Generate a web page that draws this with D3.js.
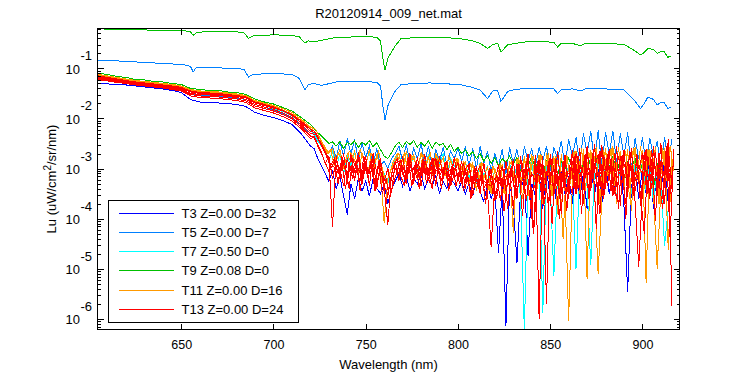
<!DOCTYPE html>
<html><head><meta charset="utf-8">
<script src="https://cdn.jsdelivr.net/npm/d3@7"></script>
<style>
body{margin:0;background:#fff}
svg{display:block}
text{font-family:"Liberation Sans",Arial,Helvetica,sans-serif;fill:#000}
</style>
</head><body>
<svg id="c" width="750" height="375"></svg>
<script>
// ---------------- DATA (log10 of Lu) ----------------
const titleText = "R20120914_009_net.mat";
const xTickValues = [650, 700, 750, 800, 850, 900];
const yMajorExponents = [-1, -2, -3, -4, -5, -6];
const seriesNames = ["T3 Z=0.00 D=32", "T5 Z=0.00 D=7", "T7 Z=0.50 D=0", "T9 Z=0.08 D=0", "T11 Z=0.00 D=16", "T13 Z=0.00 D=24"];
const seriesColors = ["#0000ff", "#0080ff", "#00ffff", "#00c000", "#ff9900", "#ff0000"];

// upper (high signal) scans of T9 and T5
const wlTop = [605,615,625,635,645,652,655,656.5,658,662,670,680,684,686.5,689,694,700,710,714,717,719,722,726,734,745,753,756,758,759.5,760.5,762,763.5,766,769,775,785,795,802,808,812,816,819,821.5,823.3,827,831,837,848,852,854,856,862,866.6,869,880,890,895.5,899,901,903,906,908,910,912,913.7,915.5];
const t9TopLog10 = [-0.21,-0.22,-0.23,-0.235,-0.25,-0.25,-0.27,-0.34,-0.29,-0.27,-0.27,-0.27,-0.29,-0.40,-0.35,-0.34,-0.33,-0.34,-0.37,-0.49,-0.45,-0.47,-0.44,-0.38,-0.37,-0.37,-0.38,-0.45,-0.85,-1.03,-0.80,-0.70,-0.55,-0.41,-0.39,-0.38,-0.39,-0.41,-0.45,-0.50,-0.60,-0.52,-0.50,-0.67,-0.53,-0.50,-0.47,-0.47,-0.48,-0.57,-0.50,-0.50,-0.55,-0.50,-0.50,-0.52,-0.64,-0.73,-0.68,-0.60,-0.62,-0.70,-0.66,-0.67,-0.78,-0.75];
const t5TopLog10 = [-0.835,-0.85,-0.87,-0.89,-0.91,-0.93,-0.96,-1.07,-0.99,-0.98,-0.99,-1.00,-1.02,-1.17,-1.12,-1.11,-1.10,-1.12,-1.20,-1.43,-1.32,-1.30,-1.34,-1.27,-1.27,-1.27,-1.28,-1.35,-1.80,-2.03,-1.75,-1.62,-1.45,-1.33,-1.30,-1.29,-1.31,-1.33,-1.38,-1.43,-1.60,-1.45,-1.44,-1.66,-1.46,-1.42,-1.40,-1.40,-1.41,-1.50,-1.42,-1.41,-1.45,-1.41,-1.41,-1.43,-1.63,-1.80,-1.70,-1.57,-1.62,-1.73,-1.68,-1.69,-1.80,-1.78];

// low signal scans (bundle): two sampling grids
const wlBundle = [605,610,615,620,625,630,635,640,645,650,655,660,665,670,675,680,685,690,695,700,705,710,715,720,
722,724,726,728,730,732,734,736,738,740,742,744,746,748,750,752,754,756,758,760,762,764,766,768,770,772,774,776,778,780,
782,784,786,788,790,792,794,796,798,800,802,804,806,808,810,812,814,816,818,820,822,824,826,828,830,832,834,836,838,840,
842,844,846,848,850,852,854,856,858,860,862,864,866,868,870,872,874,876,878,880,882,884,886,888,890,892,894,896,898,900,
902,904,906,908,910,912,914,916];
const wlBundleOdd = [605,610,615,620,625,630,635,640,645,650,655,660,665,670,675,680,685,690,695,700,705,710,715,720,
723,725,727,729,731,733,735,737,739,741,743,745,747,749,751,753,755,757,759,761,763,765,767,769,771,773,775,777,779,781,
783,785,787,789,791,793,795,797,799,801,803,805,807,809,811,813,815,817,819,821,823,825,827,829,831,833,835,837,839,841,
843,845,847,849,851,853,855,857,859,861,863,865,867,869,871,873,875,877,879,881,883,885,887,889,891,893,895,897,899,901,
903,905,907,909,911,913,915,917];

const t3Log10 = [-1.30,-1.31,-1.32,-1.33,-1.35,-1.37,-1.39,-1.41,-1.44,-1.48,-1.62,-1.67,-1.68,-1.69,-1.70,-1.72,-1.76,-1.88,-1.94,-1.98,-2.04,-2.12,-2.30,-2.55,
-2.60,-2.80,-2.95,-3.10,-3.25,-3.05,-3.40,-3.15,-3.55,-3.92,
-3.30,-3.60,-3.20,-3.45,-3.25,-3.55,-3.20,-3.40,-3.50,-3.30,
-3.70,-3.40,-3.25,-3.10,-3.35,-3.15,-3.45,-3.20,-3.30,-3.10,
-3.40,-3.20,-3.35,-3.15,-3.50,-3.25,-3.40,-3.20,-3.30,-3.45,
-3.25,-3.50,-3.30,-3.55,-3.20,-3.45,-3.66,-3.30,-3.60,-3.40,
-4.68,-3.35,-6.15,-3.30,-3.70,-4.88,-3.40,-3.20,-4.75,-3.30,
-3.55,-3.10,-3.80,-3.00,-3.60,-3.20,-3.90,-3.05,-3.50,-3.15,
-3.70,-2.95,-3.60,-3.10,-3.80,-2.90,-3.55,-3.00,-3.70,-2.85,
-3.50,-3.05,-3.65,-2.80,-3.75,-5.46,-3.40,-2.90,-3.60,-3.00,
-3.50,-2.75,-3.80,-2.95,-3.45,-2.85,-3.70,-3.00];

const t5Log10 = [-1.20,-1.23,-1.26,-1.29,-1.32,-1.34,-1.36,-1.38,-1.40,-1.43,-1.50,-1.53,-1.54,-1.55,-1.57,-1.59,-1.62,-1.72,-1.77,-1.83,-1.90,-1.99,-2.13,-2.30,
-2.30,-2.40,-2.48,-2.58,-2.70,-2.55,-2.80,-2.45,-2.75,-2.40,
-2.70,-2.42,-2.85,-2.50,-2.78,-2.55,-2.90,-2.60,-2.95,-2.85,
-3.00,-2.80,-2.70,-2.55,-2.85,-2.52,-2.90,-2.60,-2.80,-2.50,
-2.88,-2.55,-2.95,-2.62,-2.85,-2.58,-2.92,-2.65,-2.80,-2.60,
-2.85,-2.56,-2.95,-2.60,-3.00,-2.55,-2.90,-2.65,-3.05,-2.70,
-2.95,-2.62,-3.10,-2.58,-2.90,-2.62,-3.00,-2.56,-2.85,-2.60,
-2.95,-2.58,-2.85,-2.55,-3.05,-2.58,-2.80,-2.45,-2.95,-2.42,
-2.75,-2.38,-2.90,-2.30,-2.70,-2.26,-2.85,-2.24,-2.95,-2.28,
-2.70,-2.25,-2.88,-2.30,-2.75,-2.28,-3.00,-2.40,-2.80,-2.38,
-2.90,-2.40,-2.75,-2.45,-2.95,-2.38,-2.85,-2.42];

const t7Log10 = [-1.17,-1.20,-1.23,-1.26,-1.29,-1.31,-1.33,-1.35,-1.37,-1.40,-1.47,-1.50,-1.51,-1.52,-1.54,-1.56,-1.59,-1.69,-1.74,-1.80,-1.86,-1.95,-2.08,-2.25,
-2.30,-2.45,-2.55,-2.70,-2.85,-2.65,-3.00,-2.70,-3.10,-2.75,
-2.95,-2.68,-3.05,-2.72,-2.90,-2.66,-3.15,-2.75,-2.95,-3.10,
-3.30,-2.95,-2.80,-2.70,-3.00,-2.68,-2.95,-2.75,-3.05,-2.70,
-2.98,-2.72,-3.05,-2.78,-2.92,-2.70,-3.10,-2.80,-2.95,-2.85,
-3.10,-2.85,-3.20,-2.90,-3.30,-2.88,-3.15,-2.95,-3.40,-3.00,
-3.25,-2.92,-3.50,-2.90,-3.20,-2.95,-3.60,-6.25,-3.10,-2.85,
-3.40,-2.90,-5.88,-2.95,-3.30,-5.15,-3.10,-2.85,-3.45,-2.90,
-3.20,-5.00,-3.10,-2.88,-3.35,-4.93,-3.00,-2.85,-3.40,-2.92,
-3.15,-2.88,-3.60,-2.90,-3.25,-2.85,-3.50,-2.92,-3.20,-2.88,
-3.45,-2.90,-3.70,-2.95,-3.20,-4.55,-3.80,-3.00];

const t9Log10 = [-1.10,-1.12,-1.16,-1.18,-1.22,-1.23,-1.26,-1.27,-1.30,-1.32,-1.40,-1.42,-1.44,-1.44,-1.47,-1.48,-1.52,-1.61,-1.67,-1.71,-1.78,-1.85,-1.98,-2.12,
-2.20,-2.28,-2.35,-2.42,-2.50,-2.47,-2.55,-2.46,-2.60,-2.48,
-2.52,-2.45,-2.58,-2.47,-2.53,-2.44,-2.56,-2.48,-2.62,-2.75,
-2.80,-2.68,-2.55,-2.47,-2.58,-2.46,-2.52,-2.44,-2.57,-2.48,
-2.55,-2.45,-2.60,-2.47,-2.53,-2.50,-2.62,-2.52,-2.66,-2.58,
-2.70,-2.62,-2.75,-2.66,-2.80,-2.70,-2.85,-2.74,-2.90,-2.78,
-2.95,-2.80,-2.88,-2.75,-2.92,-2.78,-3.05,-2.82,-2.95,-2.76,
-3.00,-2.80,-3.10,-2.85,-2.96,-2.78,-3.15,-2.84,-3.02,-2.80,
-2.95,-2.75,-3.20,-2.82,-3.05,-2.78,-2.92,-2.72,-3.10,-2.85,
-2.98,-2.76,-3.08,-2.82,-3.30,-2.88,-3.00,-2.80,-3.15,-2.90,
-3.05,-2.85,-3.40,-2.90,-3.10,-2.82,-3.25,-2.95];

const t11aLog10 = [-1.14,-1.17,-1.20,-1.23,-1.26,-1.28,-1.30,-1.32,-1.34,-1.37,-1.44,-1.47,-1.48,-1.49,-1.51,-1.53,-1.56,-1.66,-1.71,-1.76,-1.83,-1.91,-2.04,-2.20,
-2.25,-2.35,-2.45,-2.58,-2.70,-2.60,-2.85,-2.62,-3.00,-2.70,
-2.88,-2.64,-3.10,-2.70,-2.95,-2.62,-3.05,-2.72,-3.00,-4.08,
-3.20,-3.00,-2.85,-2.70,-3.05,-2.66,-2.95,-2.72,-3.10,-2.68,
-3.00,-2.75,-3.15,-2.70,-2.95,-2.78,-3.20,-2.82,-3.05,-2.80,
-3.15,-2.85,-3.30,-2.88,-3.45,-2.90,-3.20,-2.95,-3.50,-3.00,
-3.30,-2.90,-3.60,-2.85,-4.28,-2.80,-3.40,-2.75,-3.55,-2.70,
-3.35,-2.72,-3.70,-2.68,-3.45,-2.75,-3.90,-2.70,-3.40,-6.05,
-3.30,-2.65,-3.50,-2.60,-5.20,-2.62,-3.40,-5.10,-3.60,-2.60,
-3.25,-2.55,-3.70,-2.65,-3.40,-2.60,-3.85,-2.58,-3.30,-2.62,
-5.28,-2.60,-3.50,-5.00,-3.40,-2.58,-4.62,-2.65];

const t11bLog10 = [-1.12,-1.15,-1.18,-1.21,-1.24,-1.26,-1.28,-1.30,-1.32,-1.35,-1.42,-1.45,-1.46,-1.47,-1.49,-1.51,-1.54,-1.64,-1.69,-1.74,-1.80,-1.88,-2.01,-2.17,
-2.22,-2.38,-2.55,-2.70,-2.62,-2.95,-2.68,-2.80,-3.05,-2.65,
-2.75,-2.95,-2.62,-2.85,-3.15,-2.70,-2.90,-2.66,-3.00,-3.30,
-3.10,-2.85,-2.70,-2.95,-2.68,-3.10,-2.75,-2.88,-3.20,-2.72,
-2.90,-2.70,-3.05,-2.78,-2.92,-3.15,-2.75,-2.95,-2.80,-3.10,
-2.85,-3.20,-2.90,-3.05,-3.35,-2.88,-3.10,-3.45,-2.95,-3.25,
-2.90,-3.50,-3.00,-2.85,-3.30,-2.78,-3.60,-2.80,-3.15,-2.75,
-3.40,-2.72,-3.10,-2.70,-3.55,-2.75,-3.00,-4.40,-2.72,-3.30,
-2.65,-3.20,-2.60,-3.45,-2.68,-3.05,-2.58,-3.70,-2.62,-3.15,
-2.60,-3.35,-2.58,-3.10,-2.65,-3.60,-2.60,-3.20,-2.55,-3.40,
-2.62,-3.15,-2.58,-3.70,-2.60,-3.25,-2.55,-3.05];

const t13aLog10 = [-1.15,-1.18,-1.21,-1.24,-1.27,-1.29,-1.31,-1.33,-1.35,-1.38,-1.45,-1.48,-1.49,-1.50,-1.52,-1.54,-1.57,-1.67,-1.72,-1.77,-1.84,-1.92,-2.05,-2.22,
-2.25,-2.40,-2.50,-2.65,-2.80,-4.16,-2.75,-3.20,-2.70,-3.30,
-2.72,-3.25,-2.68,-3.15,-2.75,-3.35,-2.70,-3.10,-2.80,-3.40,
-4.12,-3.10,-2.85,-3.25,-2.75,-3.20,-2.70,-3.30,-2.78,-3.15,
-2.72,-3.25,-2.80,-3.35,-2.75,-3.20,-2.85,-3.30,-2.78,-3.25,
-2.85,-3.40,-2.90,-3.35,-2.95,-3.50,-2.88,-3.45,-4.56,-3.30,
-2.92,-3.55,-2.85,-3.40,-2.80,-3.60,-2.75,-3.50,-2.70,-3.80,
-2.72,-6.00,-2.75,-5.70,-2.70,-3.55,-2.65,-3.40,-2.72,-3.60,
-2.62,-3.50,-2.58,-3.70,-2.55,-3.45,-2.50,-3.60,-2.52,-3.40,
-2.60,-3.55,-2.55,-3.75,-2.62,-3.50,-2.58,-3.65,-4.96,-3.45,
-2.60,-3.60,-2.55,-3.50,-2.48,-3.70,-2.40,-5.75];

const t13bLog10 = [-1.19,-1.22,-1.25,-1.28,-1.31,-1.33,-1.35,-1.37,-1.39,-1.42,-1.50,-1.52,-1.53,-1.54,-1.56,-1.58,-1.62,-1.72,-1.77,-1.82,-1.89,-1.98,-2.12,-2.30,
-2.32,-2.48,-2.60,-2.78,-2.95,-2.80,-3.10,-2.85,-3.40,-2.90,
-3.20,-2.85,-3.45,-2.90,-3.15,-2.82,-3.30,-2.95,-3.50,-3.20,
-3.60,-3.30,-3.05,-2.85,-3.20,-2.80,-3.35,-2.90,-3.15,-2.82,
-3.30,-2.88,-3.20,-2.85,-3.40,-2.90,-3.25,-2.92,-3.35,-3.00,
-3.45,-3.05,-3.60,-3.00,-3.40,-3.10,-3.70,-3.05,-3.50,-3.10,
-3.65,-3.00,-3.80,-2.95,-3.50,-2.90,-3.95,-2.85,-3.60,-4.30,
-3.20,-2.90,-3.70,-2.85,-4.10,-2.80,-3.60,-2.88,-3.85,-2.80,
-3.40,-2.75,-3.90,-2.70,-3.50,-2.68,-4.20,-2.65,-3.60,-2.70,
-3.45,-2.68,-3.80,-2.72,-4.00,-2.65,-3.55,-2.70,-3.75,-2.66,
-3.50,-2.62,-4.05,-2.68,-3.60,-2.55,-4.40,-2.60];

const t13cLog10 = [-1.23,-1.25,-1.28,-1.30,-1.33,-1.35,-1.37,-1.39,-1.42,-1.45,-1.55,-1.58,-1.59,-1.60,-1.62,-1.64,-1.68,-1.79,-1.84,-1.89,-1.96,-2.05,-2.20,-2.40,
-2.38,-2.55,-2.70,-2.88,-3.05,-2.95,-3.00,-3.10,-2.92,-3.15,
-2.95,-3.05,-3.00,-3.20,-2.90,-3.10,-3.00,-3.25,-3.05,-3.35,
-3.50,-3.20,-3.00,-3.10,-2.95,-3.15,-3.05,-3.00,-3.20,-3.05,
-3.10,-3.00,-3.15,-3.05,-3.00,-3.12,-3.08,-3.02,-3.18,-3.10,
-3.20,-3.10,-3.25,-3.15,-3.30,-3.20,-3.25,-3.30,-3.35,-3.20,
-3.30,-3.25,-3.15,-3.35,-3.20,-3.10,-3.30,-3.15,-3.40,-3.10,
-3.25,-3.05,-3.30,-3.10,-3.20,-3.00,-3.35,-3.05,-3.15,-3.10,
-3.00,-3.20,-2.95,-3.10,-3.00,-3.25,-2.90,-3.15,-3.05,-3.00,
-3.10,-2.95,-3.20,-3.05,-2.90,-3.15,-3.00,-3.25,-2.95,-3.10,
-3.05,-3.20,-2.90,-3.15,-3.00,-3.10,-2.95,-3.20];

const t13dLog10 = [-1.17,-1.20,-1.23,-1.26,-1.29,-1.31,-1.33,-1.35,-1.37,-1.40,-1.47,-1.50,-1.51,-1.52,-1.54,-1.56,-1.59,-1.69,-1.74,-1.79,-1.85,-1.94,-2.08,-2.26,
-2.28,-2.45,-2.62,-2.75,-3.00,-2.85,-3.30,-2.78,-2.95,-3.40,
-2.80,-3.05,-3.25,-2.75,-3.10,-2.90,-3.45,-2.85,-3.20,-3.70,
-3.30,-2.95,-2.80,-3.15,-3.35,-2.78,-3.05,-2.90,-3.40,-2.85,
-3.10,-3.30,-2.80,-3.00,-3.25,-2.88,-3.45,-2.95,-3.05,-3.30,
-2.90,-3.20,-3.50,-2.95,-3.35,-3.05,-3.70,-3.00,-3.25,-3.60,
-3.05,-3.85,-3.20,-2.95,-3.55,-3.30,-2.90,-3.65,-3.10,-4.20,
-2.85,-3.45,-3.00,-3.75,-2.80,-3.30,-4.00,-2.85,-3.50,-3.05,
-2.75,-3.40,-3.15,-2.70,-3.60,-2.80,-3.25,-3.90,-2.72,-3.35,
-2.80,-3.50,-2.75,-3.15,-3.70,-2.70,-3.30,-2.85,-3.55,-4.30,
-2.75,-3.40,-2.68,-3.25,-3.80,-2.62,-3.50,-2.80];

const t13eLog10 = [-1.21,-1.24,-1.27,-1.30,-1.33,-1.35,-1.37,-1.39,-1.41,-1.44,-1.52,-1.55,-1.56,-1.57,-1.59,-1.61,-1.65,-1.75,-1.80,-1.85,-1.92,-2.01,-2.16,-2.35,
-2.35,-2.52,-2.68,-2.90,-2.75,-3.20,-2.85,-3.00,-3.35,-2.80,
-3.15,-2.90,-2.78,-3.30,-2.95,-3.05,-2.82,-3.40,-2.90,-3.25,
-3.00,-3.45,-2.90,-2.85,-3.10,-3.30,-2.80,-3.15,-2.92,-3.35,
-2.85,-3.05,-3.40,-2.80,-3.15,-3.00,-2.90,-3.35,-3.10,-2.88,
-3.30,-3.00,-2.92,-3.55,-3.10,-2.95,-3.40,-3.25,-3.00,-3.65,
-3.20,-2.95,-3.45,-3.10,-3.80,-2.90,-3.35,-3.05,-2.88,-3.50,
-3.30,-2.82,-3.60,-3.10,-2.78,-3.45,-3.05,-3.90,-2.80,-3.25,
-3.50,-2.70,-3.05,-3.40,-2.65,-3.30,-3.00,-2.72,-3.55,-3.10,
-2.68,-3.30,-3.60,-2.75,-3.20,-2.90,-2.65,-3.45,-3.05,-2.70,
-3.35,-3.10,-2.62,-3.55,-2.85,-3.20,-2.58,-3.40];

// ---------------- DRAWING ----------------
const svg = d3.select("#c");
const x = d3.scaleLinear().domain([604.6, 920.1]).range([97.5, 679.5]);
const y = d3.scaleLog().domain([Math.pow(10, -6.213), Math.pow(10, -0.203)]).range([329.5, 28.5]);
const [L, R] = x.range();
const [B, T] = y.range();

svg.append("defs").append("clipPath").attr("id", "plotclip")
  .append("rect").attr("x", L).attr("y", T).attr("width", R - L).attr("height", B - T);

const lineGen = d3.line().x(d => x(d[0])).y(d => y(Math.pow(10, d[1])));
const plotG = svg.append("g").attr("clip-path", "url(#plotclip)");

// series index -> scans (wavelength grid, log values); drawn in legend order
const scans = [
  {s: 0, wl: wlBundle, v: t3Log10},
  {s: 1, wl: wlBundle, v: t5Log10},
  {s: 1, wl: wlTop, v: t5TopLog10},
  {s: 2, wl: wlBundle, v: t7Log10},
  {s: 3, wl: wlBundle, v: t9Log10},
  {s: 3, wl: wlTop, v: t9TopLog10},
  {s: 4, wl: wlBundle, v: t11aLog10},
  {s: 4, wl: wlBundleOdd, v: t11bLog10},
  {s: 5, wl: wlBundle, v: t13aLog10},
  {s: 5, wl: wlBundleOdd, v: t13bLog10},
  {s: 5, wl: wlBundle, v: t13cLog10},
  {s: 5, wl: wlBundleOdd, v: t13dLog10},
  {s: 5, wl: wlBundle, v: t13eLog10}
];
scans.forEach(sc => {
  plotG.append("path")
    .attr("d", lineGen(sc.wl.map((w, i) => [w, sc.v[i]])))
    .attr("fill", "none")
    .attr("stroke", seriesColors[sc.s])
    .attr("stroke-width", 1)
    .attr("shape-rendering", "crispEdges");
});

// axes
const majorVals = yMajorExponents.map(e => Math.pow(10, e));
const minorVals = [];
for (let e = -7; e <= 0; e++) for (let m = 2; m <= 9; m++) {
  const v = m * Math.pow(10, e);
  if (v >= y.domain()[0] && v <= y.domain()[1]) minorVals.push(v);
}
function styleAxis(g) {
  g.select(".domain").remove();
  g.selectAll("line").attr("stroke", "#000").attr("shape-rendering", "crispEdges");
  g.selectAll("text").attr("font-size", 12.5).attr("fill", "#000")
    .attr("font-family", '"Liberation Sans",Arial,sans-serif');
}
svg.append("g").attr("transform", `translate(0,${B})`)
  .call(d3.axisBottom(x).tickValues(xTickValues).tickSize(-6).tickPadding(11).tickFormat(d3.format("d")))
  .call(styleAxis);
svg.append("g").attr("transform", `translate(0,${T})`)
  .call(d3.axisTop(x).tickValues(xTickValues).tickSize(-6).tickFormat(""))
  .call(styleAxis);
svg.append("g").attr("transform", `translate(${L},0)`)
  .call(d3.axisLeft(y).tickValues(majorVals).tickSize(-6).tickFormat(""))
  .call(styleAxis);
svg.append("g").attr("transform", `translate(${L},0)`)
  .call(d3.axisLeft(y).tickValues(minorVals).tickSize(-3).tickFormat(""))
  .call(styleAxis);
svg.append("g").attr("transform", `translate(${R},0)`)
  .call(d3.axisRight(y).tickValues(majorVals).tickSize(-6).tickFormat(""))
  .call(styleAxis);
svg.append("g").attr("transform", `translate(${R},0)`)
  .call(d3.axisRight(y).tickValues(minorVals).tickSize(-3).tickFormat(""))
  .call(styleAxis);

// y tick labels 10^e
yMajorExponents.forEach(e => {
  const yy = y(Math.pow(10, e));
  svg.append("text").attr("x", 80).attr("y", yy + 5.5).attr("text-anchor", "end")
    .attr("font-size", 13).text("10");
  svg.append("text").attr("x", 80.5).attr("y", yy - 8).attr("text-anchor", "start")
    .attr("font-size", 13).text(String(e));
});

// frame
svg.append("rect").attr("x", L).attr("y", T).attr("width", R - L).attr("height", B - T)
  .attr("fill", "none").attr("stroke", "#000").attr("shape-rendering", "crispEdges");

// titles
svg.append("text").attr("x", (L + R) / 2).attr("y", 18).attr("text-anchor", "middle")
  .attr("font-size", 13).text(titleText);
svg.append("text").attr("x", (L + R) / 2).attr("y", 369).attr("text-anchor", "middle")
  .attr("font-size", 13).text("Wavelength (nm)");
const yl = svg.append("text").attr("transform", `translate(56,${(T + B) / 2}) rotate(-90)`)
  .attr("text-anchor", "middle").attr("font-size", 13);
yl.append("tspan").text("Lu (uW/cm");
yl.append("tspan").attr("dy", -5).attr("font-size", 10).text("2");
yl.append("tspan").attr("dy", 5).text("/sr/nm)");

// legend
const lg = svg.append("g");
lg.append("rect").attr("x", 108.5).attr("y", 200.5).attr("width", 190).attr("height", 122)
  .attr("fill", "#fff").attr("stroke", "#000").attr("shape-rendering", "crispEdges");
seriesNames.forEach((name, i) => {
  const yy = 212.5 + i * 19.3;
  lg.append("line").attr("x1", 119).attr("x2", 174).attr("y1", Math.round(yy) + 0.5).attr("y2", Math.round(yy) + 0.5)
    .attr("stroke", seriesColors[i]).attr("stroke-width", 1);
  lg.append("text").attr("x", 181.5).attr("y", yy + 5).attr("font-size", 13).text(name);
});
</script>
</body></html>
